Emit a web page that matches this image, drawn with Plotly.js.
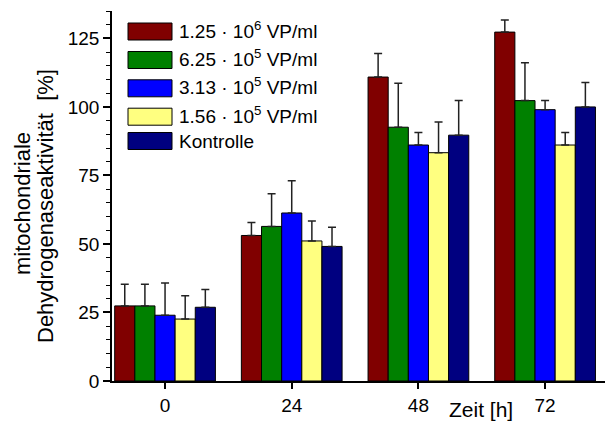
<!DOCTYPE html>
<html>
<head>
<meta charset="utf-8">
<script src="https://cdn.plot.ly/plotly-3.0.1.min.js"></script>
<style>html,body{margin:0;padding:0;background:#fff;}#chart{width:605px;height:424px;}</style>
</head>
<body>
<div id="chart"></div>
<script>
// ---- data ----
const timePoints = [0, 24, 48, 72];
const tickLabels = ["0", "24", "48", "72"];
const seriesNames = [
  "1.25 · 10<sup>6</sup> VP/ml",
  "6.25 · 10<sup>5</sup> VP/ml",
  "3.13 · 10<sup>5</sup> VP/ml",
  "1.56 · 10<sup>5</sup> VP/ml",
  "Kontrolle"
];
const seriesColors = ["#800000", "#008000", "#0000FF", "#FFFF80", "#000080"];
const vals125 = [27.4, 53.1, 110.9, 127.3];
const vals625 = [27.4, 56.4, 92.6, 102.3];
const vals313 = [24.0, 61.3, 86.1, 99.0];
const vals156 = [22.6, 51.1, 83.3, 86.1];
const valsKontrolle = [26.9, 49.1, 89.7, 100.0];
const err125 = [7.9, 4.7, 8.6, 4.4];
const err625 = [7.9, 11.9, 16.0, 13.8];
const err313 = [11.8, 11.8, 4.6, 3.3];
const err156 = [8.5, 7.3, 11.2, 4.6];
const errKontrolle = [6.5, 7.0, 12.6, 8.9];
const yTitleLine1 = "mitochondriale";
const yTitleLine2 = "Dehydrogenaseaktivität&nbsp; [%]";
const xTitle = "Zeit [h]";

const allVals = [vals125, vals625, vals313, vals156, valsKontrolle];
const allErr = [err125, err625, err313, err156, errKontrolle];

// ---- layout constants ----
const W = 605, H = 424;
const mL = 112, mR = 0, mT = 11, mB = 43;
const pw = W - mL - mR, ph = H - mT - mB;
const px2x = p => (p - mL) / pw;
const py2y = p => (H - mB - p) / ph;
const FONT = "Liberation Sans, Arial, sans-serif";

const traces = allVals.map((v, i) => ({
  type: "bar",
  x: timePoints,
  y: v,
  name: seriesNames[i],
  marker: {color: seriesColors[i], line: {color: "#000", width: 1}},
  error_y: {type: "data", symmetric: false, array: allErr[i], arrayminus: v.map(() => 0),
            color: "#222", thickness: 1.5, width: 4},
  showlegend: false,
  hoverinfo: "skip"
}));

const shapes = [];
const annotations = [];
const rowCenters = [31.5, 60, 88.3, 116.7, 141];
seriesNames.forEach((n, i) => {
  const c = rowCenters[i];
  shapes.push({type: "rect", xref: "paper", yref: "paper",
    x0: px2x(128), x1: px2x(172), y0: py2y(c + 8.5), y1: py2y(c - 8.5),
    fillcolor: seriesColors[i], line: {color: "#000", width: 1}});
  annotations.push({xref: "paper", yref: "paper", x: px2x(177), y: py2y(c + (i < 4 ? -2 : 0)),
    xanchor: "left", yanchor: "middle", showarrow: false, text: n,
    font: {family: FONT, size: 19, color: "#000"}});
});
annotations.push({xref: "paper", yref: "paper", x: px2x(22), y: py2y(204), textangle: -90,
  xanchor: "center", yanchor: "middle", showarrow: false, text: yTitleLine1,
  font: {family: FONT, size: 22, color: "#000"}});
annotations.push({xref: "paper", yref: "paper", x: px2x(46), y: py2y(206), textangle: -90,
  xanchor: "center", yanchor: "middle", showarrow: false, text: yTitleLine2,
  font: {family: FONT, size: 22, color: "#000"}});
annotations.push({xref: "paper", yref: "paper", x: px2x(481), y: py2y(409),
  xanchor: "center", yanchor: "middle", showarrow: false, text: xTitle,
  font: {family: FONT, size: 21, color: "#000"}});

const layout = {
  width: W, height: H,
  margin: {l: mL, r: mR, t: mT, b: mB, pad: 0},
  paper_bgcolor: "#fff", plot_bgcolor: "#fff",
  barmode: "group", bargap: 0.205, bargroupgap: 0,
  font: {family: FONT, size: 19, color: "#000"},
  xaxis: {type: "linear", range: [-10.05, 83.35], tickvals: timePoints, ticktext: tickLabels,
    ticks: "outside", ticklen: 6, tickwidth: 1.5, tickcolor: "#000",
    showline: true, linecolor: "#000", linewidth: 1.5, showgrid: false, zeroline: false,
    tickfont: {family: FONT, size: 19, color: "#000"}},
  yaxis: {range: [0, 135], tickvals: [0, 25, 50, 75, 100, 125],
    ticks: "outside", ticklen: 7, tickwidth: 1.5, tickcolor: "#000",
    minor: {dtick: 5, tick0: 0, ticks: "outside", ticklen: 4, tickwidth: 1.2, tickcolor: "#000", showgrid: false},
    showline: true, linecolor: "#000", linewidth: 1.5, showgrid: false, zeroline: false,
    tickfont: {family: FONT, size: 19, color: "#000"}},
  shapes: shapes,
  annotations: annotations
};

Plotly.newPlot("chart", traces, layout, {displayModeBar: false});
</script>
</body>
</html>
